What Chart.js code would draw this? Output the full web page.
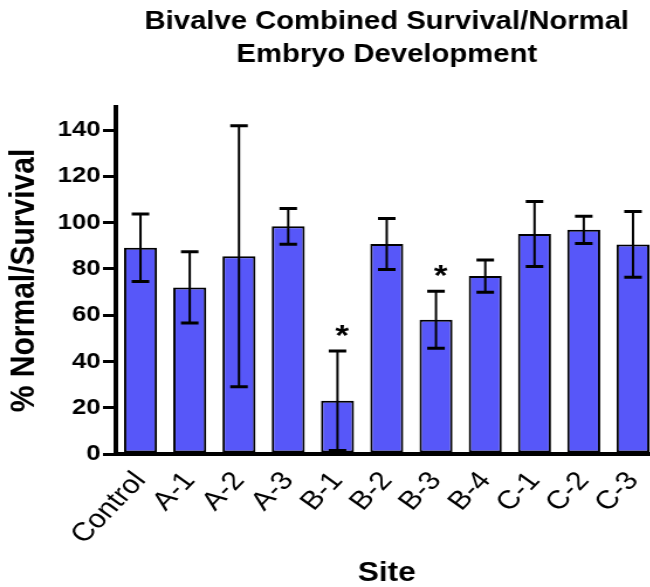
<!DOCTYPE html>
<html>
<head>
<meta charset="utf-8">
<script src="https://cdn.jsdelivr.net/npm/chart.js@4.4.1/dist/chart.umd.min.js"></script>
<style>
  html, body { margin: 0; padding: 0; background: #fff; overflow: hidden; }
</style>
</head>
<body>
<!-- drawn at 570 wide, shown 1.17x wider -->
<canvas id="chart" width="570" height="587" style="width:667px;height:587px;"></canvas>
<script>
// Sites and results (% normal / survival, mean and error)
const sites = ['Control', 'A-1', 'A-2', 'A-3', 'B-1', 'B-2', 'B-3', 'B-4', 'C-1', 'C-2', 'C-3'];
const means = [89.2, 72.0, 85.5, 98.4, 23.0, 90.8, 58.0, 76.9, 95.1, 96.9, 90.6];
const errors = [14.6, 15.4, 56.4, 7.7, 21.5, 11.0, 12.3, 7.0, 14.0, 5.9, 14.2];
const marks = ['', '', '', '', '*', '', '*', '', '', '', ''];
const yTickValues = [0, 20, 40, 60, 80, 100, 120, 140];
const titleLines = ['Bivalve Combined Survival/Normal', 'Embryo Development'];

const FONT = "'Liberation Sans', Arial, Helvetica, sans-serif";
Chart.defaults.font.family = FONT;
Chart.defaults.color = '#000';

// error bars + significance stars
const errorBars = {
    id: 'errorBars',
    afterDatasetsDraw(chart) {
        const ctx = chart.ctx;
        const y = chart.scales.y;
        const meta = chart.getDatasetMeta(0);
        ctx.save();
        ctx.strokeStyle = '#000';
        meta.data.forEach((bar, i) => {
            const top = y.getPixelForValue(means[i] + errors[i]);
            const bottom = y.getPixelForValue(Math.max(means[i] - errors[i], 0));
            const half = 7.5;
            ctx.lineWidth = 2;
            ctx.beginPath();
            ctx.moveTo(bar.x, top);
            ctx.lineTo(bar.x, bottom);
            ctx.stroke();
            ctx.lineWidth = 3;
            ctx.beginPath();
            ctx.moveTo(bar.x - half, top);
            ctx.lineTo(bar.x + half, top);
            ctx.moveTo(bar.x - half, bottom);
            ctx.lineTo(bar.x + half, bottom);
            ctx.stroke();

            if (marks[i]) {
                ctx.fillStyle = '#000';
                ctx.font = 'bold 30px ' + FONT;
                ctx.textAlign = 'center';
                ctx.textBaseline = 'alphabetic';
                ctx.fillText(marks[i], bar.x + 4, top - 6);
            }
        });
        ctx.restore();
    }
};

new Chart(document.getElementById('chart'), {
    type: 'bar',
    data: {
        labels: sites,
        datasets: [{
            data: means,
            backgroundColor: '#5757f9',
            borderColor: '#000',
            borderWidth: 2,
            borderSkipped: false,
            categoryPercentage: 1,
            barPercentage: 0.67
        }]
    },
    options: {
        responsive: false,
        animation: false,
        devicePixelRatio: 1,
        layout: { padding: { left: 0, right: 8, top: 0, bottom: 0 } },
        plugins: {
            legend: { display: false },
            tooltip: { enabled: false },
            title: {
                display: true,
                text: titleLines,
                fullSize: false,
                color: '#000',
                font: { size: 25, weight: 'bold', lineHeight: 1.32 },
                padding: { top: 6, bottom: 35 }
            }
        },
        scales: {
            x: {
                grid: { display: false },
                border: { display: true, width: 4, color: '#000' },
                ticks: { color: '#000', font: { size: 26 }, minRotation: 50, maxRotation: 50, padding: 4, autoSkip: false },
                title: { display: true, text: 'Site', color: '#000', font: { size: 27, weight: 'bold', lineHeight: 1 }, padding: 0 },
                afterFit: s => { s.height = 133; }
            },
            y: {
                min: 0,
                max: 150,
                afterBuildTicks: s => { s.ticks = yTickValues.map(v => ({ value: v })); },
                grid: { display: true, drawOnChartArea: false, drawTicks: true, tickLength: 11, tickWidth: 3, tickColor: '#000', lineWidth: 3 },
                border: { display: true, width: 4, color: '#000' },
                ticks: { color: '#000', font: { size: 22, weight: 'bold' }, padding: 2 },
                title: { display: true, text: '% Normal/Survival', color: '#000', font: { size: 30, weight: 'bold' }, padding: { top: 3, bottom: 0 } },
                afterFit: s => { s.width = 99; }
            }
        }
    },
    plugins: [errorBars]
});
</script>
</body>
</html>
